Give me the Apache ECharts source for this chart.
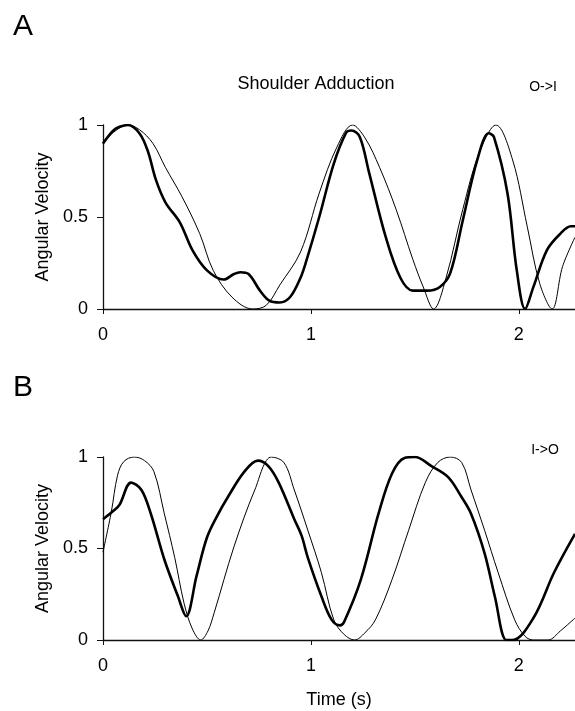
<!DOCTYPE html>
<html>
<head>
<meta charset="utf-8">
<script src="https://cdn.jsdelivr.net/npm/echarts@6/dist/echarts.min.js"></script>
<style>
html,body{margin:0;padding:0;background:#fff;}
#chart{width:575px;height:711px;}
</style>
</head>
<body>
<div id="chart"></div>
<script>
// Panel A: Shoulder Adduction, O->I  ([time s, angular velocity])
var panelA_thick = [[0,0.90],[0.05,0.97],[0.08,0.99],[0.12,1.0],[0.175,0.955],[0.215,0.86],[0.255,0.70],[0.30,0.58],[0.37,0.47],[0.43,0.32],[0.50,0.21],[0.58,0.16],[0.63,0.19],[0.66,0.20],[0.70,0.19],[0.755,0.10],[0.80,0.045],[0.85,0.035],[0.90,0.065],[0.95,0.17],[0.98,0.27],[1.04,0.50],[1.11,0.79],[1.17,0.96],[1.195,0.97],[1.235,0.935],[1.28,0.74],[1.36,0.39],[1.43,0.17],[1.49,0.10],[1.56,0.10],[1.62,0.12],[1.67,0.195],[1.73,0.48],[1.80,0.81],[1.855,0.955],[1.88,0.935],[1.945,0.63],[1.99,0.21],[2.03,0.0],[2.07,0.12],[2.135,0.32],[2.20,0.41],[2.25,0.45],[2.27,0.45]];
var panelA_thin = [[0,0.90],[0.05,0.96],[0.12,1.0],[0.175,0.975],[0.24,0.90],[0.30,0.77],[0.38,0.61],[0.465,0.41],[0.53,0.21],[0.62,0.065],[0.72,0.0],[0.785,0.02],[0.85,0.13],[0.95,0.31],[1.04,0.63],[1.125,0.88],[1.20,1.0],[1.26,0.93],[1.33,0.77],[1.41,0.54],[1.49,0.27],[1.54,0.12],[1.59,0.0],[1.65,0.17],[1.73,0.54],[1.81,0.85],[1.89,1.0],[1.97,0.81],[2.04,0.45],[2.10,0.14],[2.16,0.0],[2.21,0.23],[2.27,0.39]];
// Panel B: I->O
var panelB_thick = [[0,0.66],[0.055,0.71],[0.08,0.74],[0.135,0.86],[0.185,0.82],[0.23,0.69],[0.295,0.44],[0.36,0.24],[0.40,0.13],[0.45,0.35],[0.50,0.56],[0.55,0.68],[0.60,0.78],[0.68,0.92],[0.745,0.98],[0.795,0.95],[0.845,0.86],[0.92,0.66],[0.955,0.57],[0.985,0.45],[1.05,0.24],[1.10,0.11],[1.14,0.08],[1.16,0.10],[1.24,0.33],[1.325,0.69],[1.39,0.91],[1.45,0.995],[1.50,1.0],[1.58,0.95],[1.66,0.89],[1.725,0.78],[1.77,0.69],[1.835,0.475],[1.885,0.235],[1.94,0.0],[1.97,0.0],[2.07,0.12],[2.17,0.37],[2.27,0.58]];
var panelB_thin = [[0,0.48],[0.04,0.70],[0.07,0.90],[0.10,0.975],[0.15,1.0],[0.20,0.98],[0.245,0.92],[0.295,0.69],[0.345,0.45],[0.39,0.20],[0.43,0.06],[0.47,0.0],[0.505,0.05],[0.535,0.15],[0.63,0.51],[0.73,0.82],[0.81,1.0],[0.87,0.97],[0.92,0.82],[0.985,0.60],[1.05,0.37],[1.11,0.11],[1.16,0.03],[1.21,0.0],[1.26,0.04],[1.31,0.11],[1.39,0.33],[1.47,0.60],[1.55,0.86],[1.61,0.97],[1.67,1.0],[1.725,0.97],[1.77,0.82],[1.835,0.60],[1.90,0.37],[1.98,0.11],[2.03,0.02],[2.07,0.0],[2.14,0.0],[2.20,0.05],[2.27,0.12]];
var xTicks = [0, 1, 2];
var yTicks = [0, 0.5, 1];
var timeMax = 2.27;

var FONT = '"Liberation Sans", Arial, sans-serif';
var chart = echarts.init(document.getElementById('chart'), null, {renderer: 'canvas'});

function xAxis(gi, withName) {
  return {
    type: 'value', gridIndex: gi, min: 0, max: timeMax, interval: 1,
    axisLine: {lineStyle: {color: '#111', width: 1.3}},
    axisTick: {show: true, length: 5, lineStyle: {color: '#111'}},
    splitLine: {show: false},
    axisLabel: {
      color: '#000', fontSize: 18, fontFamily: FONT, margin: 17, showMaxLabel: false,
      formatter: function (v) { return xTicks.indexOf(v) >= 0 ? String(v) : ''; }
    },
    name: withName ? 'Time (s)' : '',
    nameLocation: 'middle', nameGap: 51,
    nameTextStyle: {color: '#000', fontSize: 18, fontFamily: FONT}
  };
}
function yAxis(gi) {
  return {
    type: 'value', gridIndex: gi, min: 0, max: 1, interval: 0.5,
    axisLine: {show: true, lineStyle: {color: '#111', width: 1.3}},
    axisTick: {show: true, length: 6, lineStyle: {color: '#111'}},
    splitLine: {show: false},
    axisLabel: {
      color: '#000', fontSize: 18, fontFamily: FONT, margin: 15,
      formatter: function (v) { return yTicks.indexOf(v) >= 0 ? String(v) : ''; }
    },
    name: 'Angular Velocity', nameLocation: 'middle', nameGap: 50, nameRotate: 90,
    nameTextStyle: {color: '#000', fontSize: 18, fontFamily: FONT}
  };
}
function line(data, gi, w) {
  return {
    type: 'line', xAxisIndex: gi, yAxisIndex: gi, data: data,
    smooth: 0.35, showSymbol: false, silent: true, clip: true,
    lineStyle: {color: '#000', width: w}
  };
}

chart.setOption({
  animation: false,
  backgroundColor: '#fff',
  grid: [
    {left: 103, right: 0, top: 125, height: 184},
    {left: 103, right: 0, top: 457, height: 183}
  ],
  xAxis: [xAxis(0, false), xAxis(1, true)],
  yAxis: [yAxis(0), yAxis(1)],
  series: [
    line(panelA_thin, 0, 1),
    line(panelA_thick, 0, 2.6),
    line(panelB_thin, 1, 1),
    line(panelB_thick, 1, 2.6)
  ],
  graphic: [
    {type: 'text', left: 13, top: 12, style: {text: 'A', font: '30px ' + FONT, fill: '#000'}},
    {type: 'text', left: 13, top: 373, style: {text: 'B', font: '30px ' + FONT, fill: '#000'}},
    {type: 'text', x: 316, y: 84, style: {text: 'Shoulder Adduction', font: '18px ' + FONT, fill: '#000', align: 'center', verticalAlign: 'middle'}},
    {type: 'text', x: 543, y: 87, style: {text: 'O->I', font: '14px ' + FONT, fill: '#000', align: 'center', verticalAlign: 'middle'}},
    {type: 'text', x: 545, y: 450, style: {text: 'I->O', font: '14px ' + FONT, fill: '#000', align: 'center', verticalAlign: 'middle'}}
  ]
});
</script>
</body>
</html>
